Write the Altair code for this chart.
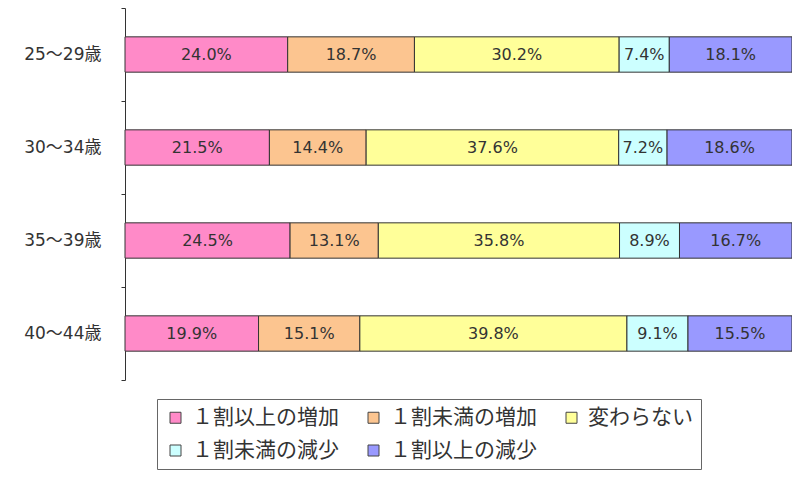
import pandas as pd
import altair as alt

# age groups (rows, top to bottom)
ages = ["25～29歳", "30～34歳", "35～39歳", "40～44歳"]

# answer categories (stack order, left to right)
categories = ["１割以上の増加", "１割未満の増加", "変わらない", "１割未満の減少", "１割以上の減少"]
colors = ["#FF8AC8", "#FCC590", "#FFFF99", "#CCFFFF", "#9999FF"]

# shares in % per category, one value per age group
inc_over10 = [24.0, 21.5, 24.5, 19.9]
inc_under10 = [18.7, 14.4, 13.1, 15.1]
no_change = [30.2, 37.6, 35.8, 39.8]
dec_under10 = [7.4, 7.2, 8.9, 9.1]
dec_over10 = [18.1, 18.6, 16.7, 15.5]

series = [inc_over10, inc_under10, no_change, dec_under10, dec_over10]

rows = []
for order, (cat, vals) in enumerate(zip(categories, series)):
    for age, v in zip(ages, vals):
        rows.append({"age": age, "category": cat, "order": order,
                     "value": v, "label": f"{v:.1f}%"})
df = pd.DataFrame(rows)

FONT = "Noto Sans CJK JP"
NUM_FONT = "DejaVu Sans, Noto Sans CJK JP"

base = alt.Chart(df).transform_stack(
    stack="value",
    groupby=["age"],
    as_=["x0", "x1"],
    offset="normalize",
    sort=[alt.SortField("order")],
).transform_calculate(
    mid="(datum.x0 + datum.x1) / 2"
)

y_enc = alt.Y(
    "age:N",
    sort=ages,
    scale=alt.Scale(paddingInner=0, paddingOuter=0),
    axis=alt.Axis(
        title=None,
        tickBand="extent",
        tickSize=4,
        tickColor="#333333",
        domainColor="#333333",
        labelFont=NUM_FONT,
        labelFontSize=17,
        labelColor="#333333",
        labelPadding=20,
    ),
)

bars = base.mark_bar(
    stroke="#333333", strokeWidth=1, height=alt.RelativeBandSize(0.38)
).encode(
    x=alt.X("x0:Q", scale=alt.Scale(domain=[0, 1]), axis=None),
    x2="x1:Q",
    y=y_enc,
    color=alt.Color(
        "category:N",
        scale=alt.Scale(domain=categories, range=colors),
        legend=alt.Legend(
            title=None,
            orient="none",
            legendX=32,
            legendY=391,
            direction="horizontal",
            columns=3,
            symbolType="square",
            symbolSize=121,
            symbolStrokeColor="#444444",
            symbolStrokeWidth=1,
            symbolOpacity=1,
            labelFont=FONT,
            labelFontSize=21,
            labelColor="#333333",
            labelLimit=300,
            labelOffset=6,
            columnPadding=24,
            rowPadding=11,
            padding=8,
            strokeColor="#666666",
            fillColor="white",
        ),
    ),
)

labels = base.mark_text(font=NUM_FONT, fontSize=16, color="#333333").encode(
    x=alt.X("mid:Q", scale=alt.Scale(domain=[0, 1]), axis=None),
    y=alt.Y("age:N", sort=ages),
    text="label:N",
)

chart = alt.layer(bars, labels).properties(
    width=667,
    height=372,
    autosize=alt.AutoSizeParams(type="none"),
    padding={"left": 117, "top": 0, "right": 0, "bottom": 100},
).configure_view(stroke=None)

chart.save("out.html", embed_options={"renderer": "svg", "actions": False})
